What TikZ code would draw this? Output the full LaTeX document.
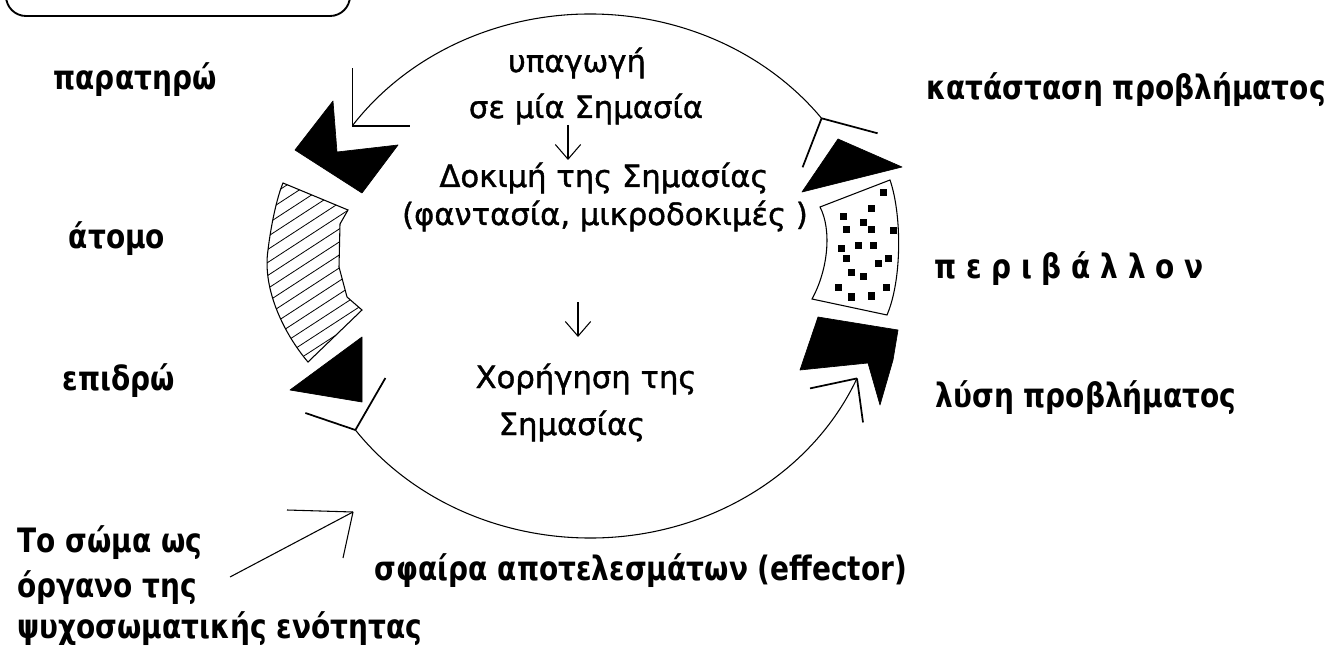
\documentclass[tikz,border=0pt]{standalone}
\usepackage{fontspec}
\setmainfont{DejaVu Sans}
\newfontfamily\midfont{DejaVu Sans}[FakeBold=1.3]
\usetikzlibrary{arrows.meta}
\newcommand\tall[1]{\scalebox{1}[1.2]{#1}}
\tikzset{
 lab/.style={font=\fontsize{21}{25}\selectfont\bfseries, inner sep=0pt, anchor=base},
 labw/.style={lab, anchor=base west},
 mid/.style={font=\fontsize{23}{27}\selectfont\midfont, inner sep=0pt, anchor=base},
 rim/.style={line width=0.8pt},
 arm/.style={line width=1.3pt},
 blk/.style={fill=black, draw=black, line width=0.5pt, line join=round},
 seg/.style={draw=black, line width=0.8pt},
 dn/.style={line width=0.8pt, -{Straight Barb[length=11pt,width=19pt,line width=0.8pt]}},
 dot/.style={fill=black},
}
\begin{document}
\begin{tikzpicture}[x=0.75pt,y=-0.75pt]
\useasboundingbox (0,0) rectangle (1329,649);

% top rounded box (only its lower part is visible)
\draw[line width=1.4pt, rounded corners=15pt] (6,-60) -- (6,16) -- (350,16) -- (350,-60);

% ellipse arc end points
\coordinate (vTL) at (352.4,125.7);
\coordinate (vTR) at (821.6,118.3);
\coordinate (vBL) at (355.4,430.0);
\coordinate (vBR) at (857.0,378.4);

% big cycle arcs
\draw[rim] (vTL) arc[start angle=-145, end angle=-37, x radius=290, y radius=262];
\draw[rim] (vBL) arc[start angle=144, end angle=23, x radius=290, y radius=262];

% open arrowheads at the arc ends
\draw[arm] (vTL) -- ++(0,-58) (vTL) -- ++(58,0);
\draw[arm] (vTR) -- ++(56,15) (vTR) -- ++(-19,49);
\draw[arm] (vBL) -- ++(30,-52) (vBL) -- ++(-50,-17);
\draw[arm] (vBR) -- ++(-47,10) (vBR) -- ++(6,44);

% black pieces
\fill[blk] (333,101) -- (337,152) -- (398,145) -- (362,193) -- (295,150) -- cycle;
\fill[blk] (838,139) -- (902,167) -- (802,192) -- cycle;
\fill[blk] (818,317) -- (898,330) -- (893,360) -- (880,405) -- (868,363) -- (800,370) -- cycle;
\fill[blk] (362,337) -- (362,402) -- (290,390) -- cycle;

% hatched piece (left)
\begin{scope}
\clip (283,183) -- (348,210) -- (340,224) -- (339,267) -- (347,297) -- (362,310) -- (308,362)
  .. controls (285,335) and (262,290) .. (268,250) .. controls (271,225) and (277,197) .. (283,183) -- cycle;
\foreach \c in {170,183,...,480} \draw[line width=0.6pt] (250,\c) -- ++(140,-91);
\end{scope}
\draw[seg] (283,183) -- (348,210) -- (340,224) -- (339,267) -- (347,297) -- (362,310) -- (308,362)
  .. controls (285,335) and (262,290) .. (268,250) .. controls (271,225) and (277,197) .. (283,183) -- cycle;

% dotted piece (right)
\draw[seg] (820,207) -- (890,180) .. controls (902,215) and (902,280) .. (887,315) -- (812,299)
  .. controls (828,270) and (832,230) .. (820,207) -- cycle;
\foreach \p in {(883,193),(871,209),(843,217),(863,223),(846,230),(871,230),(893,231),
  (841,249),(858,246),(873,246),(846,259),(888,259),(878,264),(851,273),(863,277),
  (838,288),(886,288),(851,297),(871,296)}
  \fill[dot] \p ++(-3.5,-3.5) rectangle ++(7,7);

% texts
\node[lab] (obs) at (135,90) {\tall{παρατηρώ}};
\node[lab] (atom) at (117,248) {\tall{άτομο}};
\node[lab] (act) at (119,390) {\tall{επιδρώ}};
\node[lab] (prob) at (1126,100) {\tall{κατάσταση προβλήματος}};
\node[lab] (env) at (1069,278) {\tall{π ε ρ ι β ά λ λ ο ν}};
\node[lab] (sol) at (1086,407) {\tall{λύση προβλήματος}};
\node[mid] (t1) at (577,72) {υπαγωγή};
\node[mid] (t2) at (586,118) {σε μία Σημασία};
\node[mid] (t3) at (604,187) {Δοκιμή της Σημασίας};
\node[mid] (t4) at (605,225) {(φαντασία, μικροδοκιμές )};
\node[mid] (t5) at (586,388) {Χορήγηση της};
\node[mid] (t6) at (572,435) {Σημασίας};
\node[lab] (eff) at (641,580) {\tall{σφαίρα αποτελεσμάτων (effector)}};
\node[labw] (b1) at (17,552) {\tall{Το σώμα ως}};
\node[labw] (b2) at (17,597) {\tall{όργανο της}};
\node[labw] (b3) at (17,638) {\tall{ψυχοσωματικής ενότητας}};

% small downward arrows in the centre
\coordinate (d1a) at (568,125);
\coordinate (d1b) at (568,160);
\coordinate (d2a) at (578,302);
\coordinate (d2b) at (578,337);
\draw[dn] (d1a) -- (d1b);
\draw[dn] (d2a) -- (d2b);

% arrow from the body label to the cycle
\coordinate (bA) at (230,577);
\coordinate (bB) at (353,512);
\draw[rim] (bA) -- (bB);
\draw[rim] (bB) -- ++(-66,-2) (bB) -- ++(-10,46);
\end{tikzpicture}
\end{document}
